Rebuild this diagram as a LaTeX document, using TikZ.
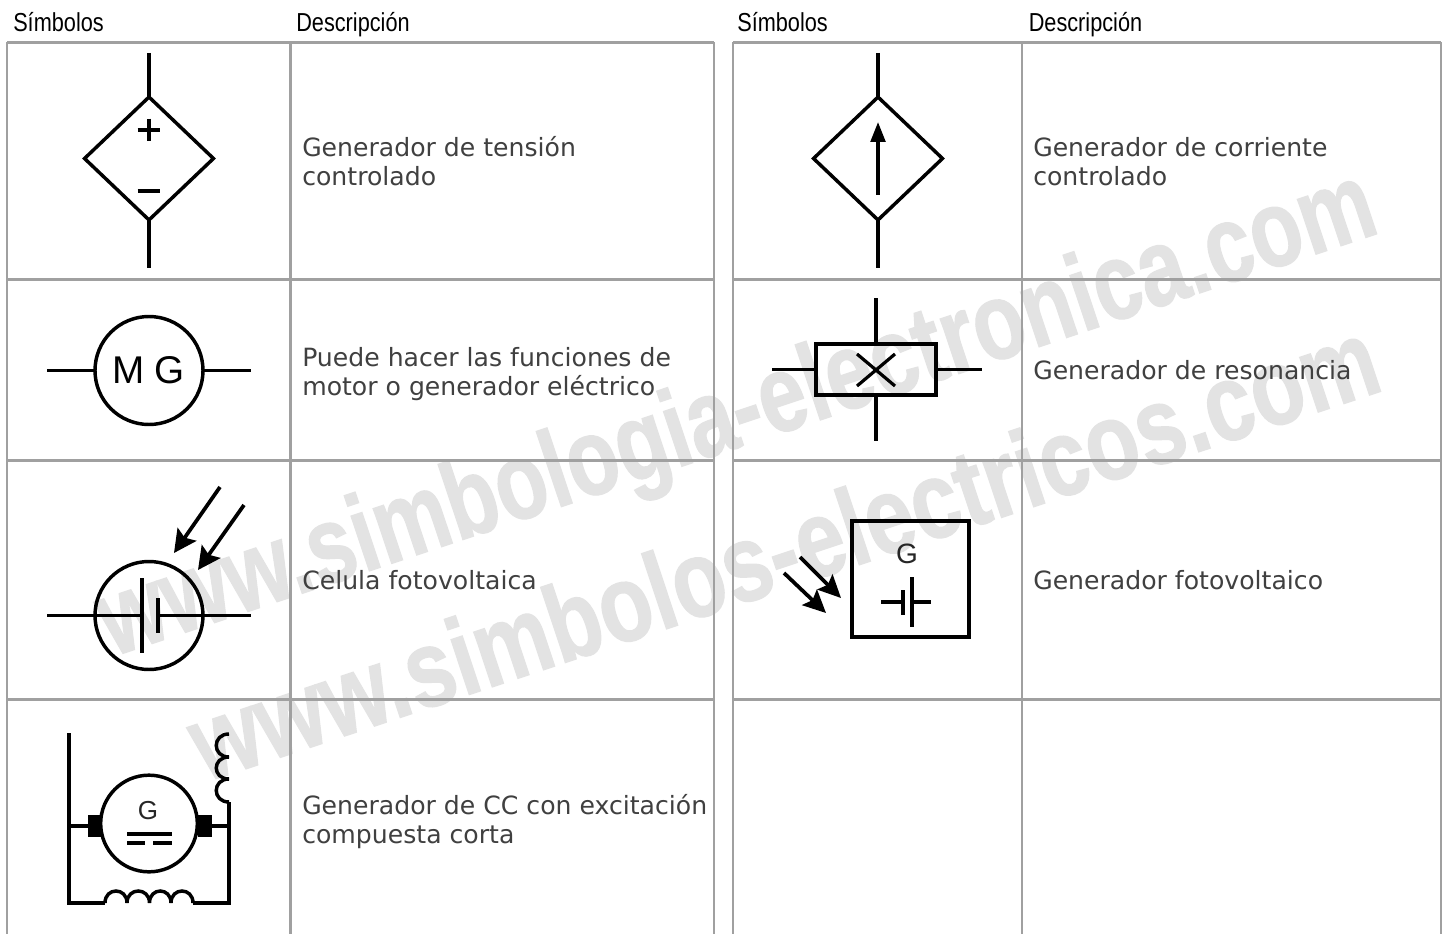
\documentclass[tikz,border=0pt]{standalone}
\usepackage{fontspec}
\setmainfont{DejaVu Sans}
\newfontfamily\headfont[FakeStretch=0.835]{Liberation Sans}
\newfontfamily\symfont{Liberation Sans}
\newfontfamily\markfont[BoldFont={Liberation Sans Bold},BoldFeatures={FakeBold=1.2}]{Liberation Sans}
\usetikzlibrary{arrows.meta,shapes.geometric}
\definecolor{gridc}{HTML}{A0A0A0}
\definecolor{markc}{HTML}{E3E3E3}
\definecolor{descc}{HTML}{404040}
\tikzset{
  grid line/.style={draw=gridc,line width=2.1pt},
  wire/.style={draw=black,line width=2.6pt},
  thinwire/.style={draw=black,line width=2.4pt},
  desc/.style={anchor=west,align=left,text=descc,inner sep=0pt,font=\fontsize{18.85pt}{21.75pt}\selectfont},
  head/.style={anchor=base west,inner sep=0pt,font=\headfont\fontsize{19.5pt}{22pt}\selectfont},
  mark text/.style={text=markc,inner sep=0pt,transform shape,font=\markfont\bfseries\fontsize{82pt}{90pt}\selectfont},
  dep diamond/.style={diamond,draw=black,line width=2.6pt,minimum width=96.7pt,minimum height=92.2pt,inner sep=0pt,outer sep=0pt},
  ring/.style={circle,draw=black,line width=2.6pt,inner sep=0pt,outer sep=0pt},
  arrowline/.style={draw=black,line width=2.8pt,-{Stealth[length=17pt,width=17pt,inset=3pt]}},
  brush/.style={fill=black,inner sep=0pt,outer sep=0pt,minimum width=10.5pt,minimum height=16.5pt},
}
\begin{document}
\begin{tikzpicture}[x=0.75pt,y=-0.75pt]
\useasboundingbox (0,0) rectangle (1445,934);
\fill[white] (0,0) rectangle (1445,934);
% watermark
\node[mark text,rotate=18.5,xscale=0.775] (wm1) at (738,418) {www.simbologia-electronica.com};
\node[mark text,rotate=18.4,xscale=0.796] (wm2) at (783,549) {www.simbolos-electricos.com};
% headers
\node[head] (h1) at (13,31.5) {Símbolos};
\node[head] (h2) at (296,31.5) {Descripción};
\node[head] (h3) at (737,31.5) {Símbolos};
\node[head] (h4) at (1028.5,31.5) {Descripción};
% grid
\foreach \xa/\xb/\xc in {7/290.5/714,733/1022/1441}{
  \foreach \yy in {42.5,279.5,460.5,699.5}
    \draw[grid line] (\xa,\yy) -- (\xc,\yy);
  \foreach \xx in {\xa,\xb,\xc}
    \draw[grid line] (\xx,42.5) -- (\xx,934);
}
% descriptions
\node[desc] (d1) at (302,161) {Generador de tensión\\controlado};
\node[desc] (d2) at (302,374) {Puede hacer las funciones de\\motor o generador eléctrico};
\node[desc] (d3) at (302,580) {Celula fotovoltaica};
\node[desc] (d4) at (302,822) {Generador de CC con excitación\\compuesta corta};
\node[desc] (d5) at (1033,162) {Generador de corriente\\controlado};
\node[desc] (d6) at (1033,370) {Generador de resonancia};
\node[desc] (d7) at (1033,580) {Generador fotovoltaico};
% dependent voltage source
\node[dep diamond] (vs) at (149,158.5) {};
\coordinate (vsT) at (149,53); \coordinate (vsB) at (149,268);
\draw[wire] (vsT) -- (vs.north);
\draw[wire] (vs.south) -- (vsB);
\coordinate (pl) at (149,130);
\draw[wire] ([xshift=-8.5pt]pl) -- ([xshift=8.5pt]pl);
\draw[wire] ([yshift=8.5pt]pl) -- ([yshift=-8.5pt]pl);
\coordinate (mi) at (149,191);
\draw[wire] ([xshift=-8.5pt]mi) -- ([xshift=8.5pt]mi);
% dependent current source
\node[dep diamond] (cs) at (878,158.5) {};
\coordinate (csT) at (878,53); \coordinate (csB) at (878,268);
\coordinate (csA) at (878,195); \coordinate (csH) at (878,122);
\draw[wire] (csT) -- (cs.north);
\draw[wire] (cs.south) -- (csB);
\draw[draw=black,line width=2.6pt,-{Triangle[length=15pt,width=11pt]}] (csA) -- (csH);
% motor/generator
\node[ring,minimum size=81pt,font=\symfont\fontsize{29pt}{30pt}\selectfont] (mg) at (149,370.5) {\hspace*{-0.3pt}M\hspace{7pt}G};
\coordinate (mgL) at (47,370.5); \coordinate (mgR) at (251,370.5);
\draw[wire] (mgL) -- (mg.west);
\draw[wire] (mg.east) -- (mgR);
% resonance
\node[draw=black,line width=2.8pt,minimum width=90pt,minimum height=38pt,inner sep=0pt,outer sep=0pt] (rs) at (876,369.5) {};
\coordinate (rsL) at (772,369.5); \coordinate (rsR) at (982,369.5);
\coordinate (rsT) at (876,298); \coordinate (rsB) at (876,441);
\draw[wire] (rsL) -- (rs.west);
\draw[wire] (rs.east) -- (rsR);
\draw[wire] (rsT) -- (rs.north);
\draw[wire] (rs.south) -- (rsB);
\coordinate (x1) at (857,354); \coordinate (x2) at (895,386);
\coordinate (x3) at (857,386); \coordinate (x4) at (895,354);
\draw[thinwire] (x1) -- (x2);
\draw[thinwire] (x3) -- (x4);
% photovoltaic cell
\node[ring,minimum size=81pt] (pv) at (149,615.5) {};
\coordinate (pvL) at (47,615.5); \coordinate (pvR) at (251,615.5);
\coordinate (p1a) at (142,578); \coordinate (p1b) at (142,653);
\coordinate (p2a) at (158,598); \coordinate (p2b) at (158,633);
\coordinate (p1m) at (142,615.5); \coordinate (p2m) at (158,615.5);
\draw[wire] (pvL) -- (p1m);
\draw[wire] (p2m) -- (pvR);
\draw[wire] (p1a) -- (p1b);
\draw[wire] (p2a) -- (p2b);
\coordinate (a1s) at (220,487); \coordinate (a1e) at (174,553);
\coordinate (a2s) at (244,505); \coordinate (a2e) at (198,570);
\draw[arrowline] (a1s) -- (a1e);
\draw[arrowline] (a2s) -- (a2e);
% photovoltaic generator
\node[draw=black,line width=2.9pt,minimum width=88pt,minimum height=87pt,inner sep=0pt,outer sep=0pt] (pg) at (910.5,579) {};
\node[inner sep=0pt,text=black!85,font=\symfont\fontsize{21pt}{22pt}\selectfont] (pgG) at (907,554) {G};
\coordinate (bL) at (881,602); \coordinate (bR) at (931,602);
\coordinate (b1m) at (903,602); \coordinate (b2m) at (912,602);
\coordinate (b1a) at (903,590); \coordinate (b1b) at (903,615);
\coordinate (b2a) at (912,577); \coordinate (b2b) at (912,627);
\draw[thinwire] (bL) -- (b1m);
\draw[thinwire] (b2m) -- (bR);
\draw[thinwire] (b1a) -- (b1b);
\draw[thinwire] (b2a) -- (b2b);
\coordinate (a3s) at (800,557); \coordinate (a3e) at (841,598);
\coordinate (a4s) at (784,573); \coordinate (a4e) at (826,613);
\draw[draw=black,line width=2.8pt,-{Stealth[length=17pt,width=16pt,inset=3pt]}] (a3s) -- (a3e);
\draw[draw=black,line width=2.8pt,-{Stealth[length=17pt,width=16pt,inset=3pt]}] (a4s) -- (a4e);
% compound DC generator
\node[ring,minimum size=72.5pt] (dc) at (149,823.5) {};
\node[inner sep=0pt,text=black!85,font=\symfont\fontsize{19.5pt}{21pt}\selectfont] (dcG) at (148,811) {G};
\node[brush] (bl) at (94.5,826) {};
\node[brush] (br) at (204.5,826) {};
\coordinate (lT) at (69,733); \coordinate (lM) at (69,826);
\coordinate (lB) at (69,903); \coordinate (rB) at (229,903);
\coordinate (rM) at (229,826); \coordinate (rT) at (229,802);
\draw[wire] (lT) -- (lB) -- (105,903);
\draw[wire] (193,903) -- (rB) -- (rT);
\draw[wire] (lM) -- (bl.west);
\draw[wire] (br.east) -- (rM);
\draw[wire] (105,903) .. controls (105,887) and (127,887) .. (127,903)
  .. controls (127,887) and (149.5,887) .. (149.5,903)
  .. controls (149.5,887) and (171,887) .. (171,903)
  .. controls (171,887) and (193,887) .. (193,903);
\draw[wire] (rT) .. controls (212,802) and (212,779) .. (229,779)
  .. controls (212,779) and (212,757) .. (229,757)
  .. controls (212,757) and (212,734) .. (229,734);
\draw[thinwire] (127,834) -- (172,834);
\draw[thinwire] (127,843) -- (145,843);
\draw[thinwire] (153,843) -- (172,843);
\end{tikzpicture}
\end{document}
